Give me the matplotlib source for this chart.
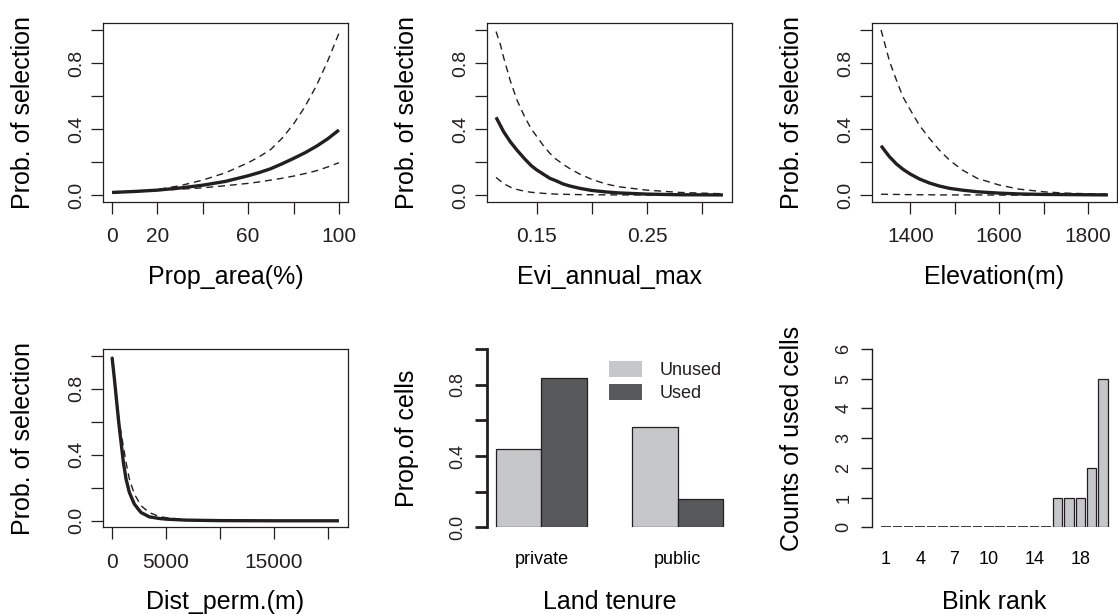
import numpy as np
import matplotlib
matplotlib.use("Agg")
import matplotlib.pyplot as plt
from matplotlib.patches import Patch

# -------------------------------- data --------------------------------
area_x = [0, 10, 20, 30, 40, 50, 60, 65, 70, 75, 80, 85, 90, 95, 100]
area_fit = [0.016, 0.022, 0.030, 0.043, 0.060, 0.083, 0.117, 0.137, 0.160, 0.190, 0.222, 0.256, 0.295, 0.340, 0.394]
area_upper = [0.018, 0.024, 0.034, 0.057, 0.091, 0.135, 0.196, 0.233, 0.277, 0.345, 0.430, 0.535, 0.660, 0.810, 0.980]
area_lower = [0.013, 0.020, 0.028, 0.036, 0.044, 0.057, 0.071, 0.080, 0.091, 0.102, 0.115, 0.130, 0.147, 0.170, 0.196]

evi_x = [0.113, 0.117, 0.120, 0.126, 0.132, 0.139, 0.145, 0.150, 0.157, 0.162,
         0.167, 0.174, 0.180, 0.189, 0.200, 0.213, 0.225, 0.250, 0.280, 0.319]
evi_fit = [0.471, 0.420, 0.382, 0.322, 0.272, 0.219, 0.178, 0.152, 0.122, 0.101,
           0.088, 0.067, 0.055, 0.041, 0.028, 0.019, 0.013, 0.006, 0.002, 0.001]
evi_upper = [0.990, 0.909, 0.830, 0.690, 0.575, 0.473, 0.400, 0.354, 0.290, 0.252,
             0.220, 0.186, 0.160, 0.127, 0.095, 0.067, 0.050, 0.030, 0.016, 0.008]
evi_lower = [0.107, 0.085, 0.069, 0.048, 0.034, 0.023, 0.017, 0.014, 0.010, 0.008,
             0.006, 0.005, 0.004, 0.003, 0.002, 0.0015, 0.001, 0.001, 0.0005, 0.0]

elev_x = [1334, 1342, 1353, 1368, 1383, 1400, 1420, 1443, 1465, 1488,
          1517, 1551, 1600, 1645, 1700, 1749, 1800, 1845]
elev_fit = [0.299, 0.270, 0.232, 0.190, 0.157, 0.127, 0.098, 0.073, 0.055, 0.041,
            0.030, 0.020, 0.012, 0.007, 0.004, 0.003, 0.002, 0.001]
elev_upper = [1.000, 0.920, 0.810, 0.700, 0.596, 0.515, 0.424, 0.343, 0.273, 0.212,
              0.152, 0.101, 0.061, 0.036, 0.020, 0.012, 0.008, 0.006]
elev_lower = [0.005, 0.005, 0.004, 0.004, 0.003, 0.003, 0.002, 0.002, 0.001, 0.001,
              0.001, 0.001, 0.0, 0.0, 0.0, 0.0, 0.0, 0.0]

dist_x = [0, 216, 431, 616, 832, 1048, 1294, 1602, 2065, 2681, 3451, 4375, 5000, 6841, 10000, 15000, 21017]
dist_fit = [0.990, 0.859, 0.717, 0.596, 0.475, 0.354, 0.253, 0.172, 0.101, 0.050,
            0.024, 0.014, 0.010, 0.004, 0.001, 0.0, 0.0]
dist_upper = [0.995, 0.870, 0.740, 0.630, 0.530, 0.450, 0.354, 0.253, 0.162, 0.091,
              0.050, 0.026, 0.019, 0.007, 0.001, 0.0, 0.0]
dist_lower = [0.990, 0.852, 0.708, 0.585, 0.462, 0.342, 0.243, 0.163, 0.094, 0.046,
              0.021, 0.012, 0.008, 0.003, 0.001, 0.0, 0.0]

tenure = ["private", "public"]
prop_unused = [0.44, 0.56]
prop_used = [0.84, 0.16]
status_labels = ["Unused", "Used"]

bink_rank = [str(r) for r in range(1, 21)]
bink_counts = [0, 0, 0, 0, 0, 0, 0, 0, 0, 0, 0, 0, 0, 0, 0, 1, 1, 1, 2, 5]
bink_shown = ["1", "4", "7", "10", "14", "18"]

prob_ticks = [0.0, 0.2, 0.4, 0.6, 0.8, 1.0]
prob_labels = ["0.0", "", "0.4", "", "0.8", ""]
area_ticks = [0, 20, 40, 60, 80, 100]
area_labels = ["0", "20", "", "60", "", "100"]
evi_ticks = [0.15, 0.20, 0.25, 0.30]
evi_labels = ["0.15", "", "0.25", ""]
elev_ticks = [1400, 1500, 1600, 1700, 1800]
elev_labels = ["1400", "", "1600", "", "1800"]
dist_ticks = [0, 5000, 10000, 15000, 20000]
dist_labels = ["0", "5000", "", "15000", ""]
count_ticks = [0, 1, 2, 3, 4, 5, 6]

# -------------------------------- style --------------------------------
INK = "#231f20"
LIGHT = "#c6c7c9"
DARK = "#58595b"
plt.rcParams["font.family"] = ["Liberation Sans", "DejaVu Sans"]
plt.rcParams["text.color"] = INK

W, H = 1118, 615
COL_LEFT = [103, 487, 872]
ROW_TOP = [23.3, 349]
AX_W, AX_H = 245, 178.4
DASH = (5, 3.5)


def make_axes(fig, row, col):
    rect = [COL_LEFT[col] / W, 1 - (ROW_TOP[row] + AX_H) / H, AX_W / W, AX_H / H]
    return fig.add_axes(rect)


def place_labels(ax, xlabel, ylabel):
    ax.set_xlabel(xlabel, fontsize=18, va="center")
    ax.xaxis.set_label_coords(0.5, -75 / AX_H)
    ax.set_ylabel(ylabel, fontsize=18, va="center")
    ax.yaxis.set_label_coords(-80 / AX_W, 0.5)


def pad_range(lo, hi):
    r = (hi - lo) * 0.04
    return lo - r, hi + r


def line_panel(ax, x, fit, upper, lower, ticks, labels, xlabel):
    ax.plot(x, upper, color=INK, lw=1.0, dashes=DASH)
    ax.plot(x, lower, color=INK, lw=1.0, dashes=DASH)
    ax.plot(x, fit, color=INK, lw=2.4, solid_capstyle="butt", solid_joinstyle="round")
    ax.set_xlim(*pad_range(min(x), max(x)))
    ax.set_ylim(-0.04, 1.04)
    for s in ax.spines.values():
        s.set_linewidth(0.9)
        s.set_color(INK)
    ax.set_xticks(ticks)
    ax.set_xticklabels(labels)
    ax.set_yticks(prob_ticks)
    ax.set_yticklabels(prob_labels, rotation=90, va="center")
    ax.tick_params(direction="out", length=8.5, width=0.9, colors=INK)
    ax.tick_params(axis="x", labelsize=15, pad=10)
    ax.tick_params(axis="y", labelsize=14, pad=4.5)
    place_labels(ax, xlabel, "Prob. of selection")


fig = plt.figure(figsize=(W / 100, H / 100), dpi=100)

line_panel(make_axes(fig, 0, 0), area_x, area_fit, area_upper, area_lower,
           area_ticks, area_labels, "Prop_area(%)")
line_panel(make_axes(fig, 0, 1), evi_x, evi_fit, evi_upper, evi_lower,
           evi_ticks, evi_labels, "Evi_annual_max")
line_panel(make_axes(fig, 0, 2), elev_x, elev_fit, elev_upper, elev_lower,
           elev_ticks, elev_labels, "Elevation(m)")
line_panel(make_axes(fig, 1, 0), dist_x, dist_fit, dist_upper, dist_lower,
           dist_ticks, dist_labels, "Dist_perm.(m)")

# ---- land tenure bars (beside, space c(0,1)) ----
ax = make_axes(fig, 1, 1)
grp = np.arange(len(tenure)) * 3 + 1
ax.bar(grp + 0.5, prop_unused, width=1, color=LIGHT, edgecolor=INK, linewidth=0.9)
ax.bar(grp + 1.5, prop_used, width=1, color=DARK, edgecolor=INK, linewidth=0.9)
ax.set_xlim(0.8, 6.2)
ax.set_ylim(0, 1)
for k in ["top", "right", "bottom"]:
    ax.spines[k].set_visible(False)
ax.spines["left"].set_linewidth(2)
ax.spines["left"].set_color(INK)
ax.spines["left"].set_bounds(0, 1)
ax.set_yticks(prob_ticks)
ax.set_yticklabels(prob_labels, rotation=90, va="center")
ax.tick_params(axis="y", direction="out", length=9, width=2, colors=INK, labelsize=13, pad=6)
ax.set_xticks(grp + 1)
ax.set_xticklabels(tenure)
ax.tick_params(axis="x", length=0, labelsize=13, pad=17)
place_labels(ax, "Land tenure", "Prop.of cells")
handles = [Patch(facecolor=LIGHT, edgecolor="none"), Patch(facecolor=DARK, edgecolor="none")]
ax.legend(handles, status_labels, loc="upper left", bbox_to_anchor=((609 - 487) / AX_W, 0.93),
          frameon=False, fontsize=13, handlelength=1.8, handleheight=0.95,
          handletextpad=1.0, labelspacing=0.25, borderpad=0, borderaxespad=0)

# ---- Bink rank bars ----
ax = make_axes(fig, 1, 2)
centers = 0.2 + np.arange(len(bink_counts)) * 1.2 + 0.5
counts = np.array(bink_counts)
ax.bar(centers, counts, width=1, color=LIGHT, edgecolor=INK, linewidth=0.9)
# zero-height bars show up as flat segments, as in R's barplot
zero = counts == 0
ax.hlines(counts[zero], centers[zero] - 0.5, centers[zero] + 0.5, color=INK, lw=1.2,
          capstyle="butt")
ax.set_xlim(-0.752, 24.952)
ax.set_ylim(0, 6)
for k in ["top", "right", "bottom"]:
    ax.spines[k].set_visible(False)
ax.spines["left"].set_linewidth(1)
ax.spines["left"].set_color(INK)
ax.spines["left"].set_bounds(0, 6)
ax.set_yticks(count_ticks)
ax.set_yticklabels([str(t) for t in count_ticks], rotation=90, va="center")
ax.tick_params(axis="y", direction="out", length=8, width=1, colors=INK, labelsize=13, pad=6)
shown_pos = [centers[bink_rank.index(s)] for s in bink_shown]
ax.set_xticks(shown_pos)
ax.set_xticklabels(bink_shown)
ax.tick_params(axis="x", length=0, labelsize=13, pad=17)
place_labels(ax, "Bink rank", "Counts of used cells")

fig.savefig("out.png", dpi=100)
